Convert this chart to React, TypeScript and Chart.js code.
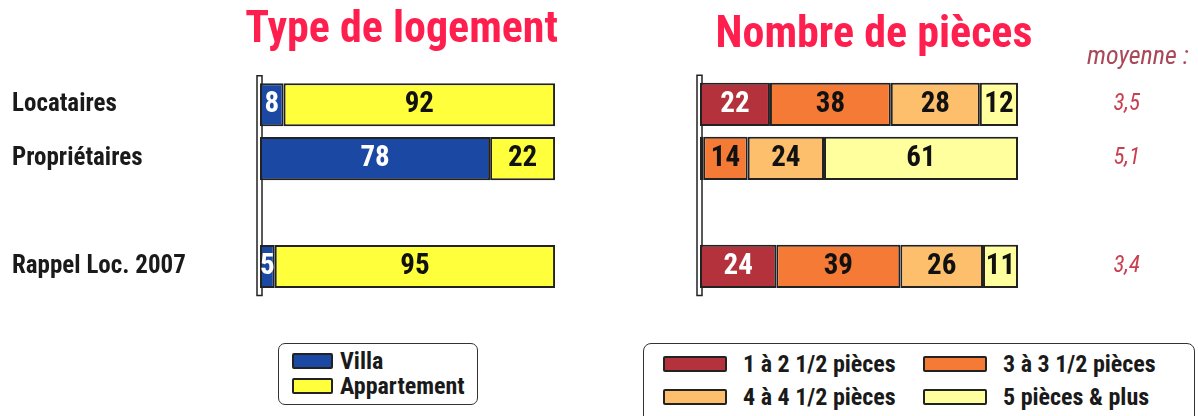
import React, { useEffect, useRef } from "react";
import { Chart, registerables } from "chart.js";

Chart.register(...registerables);

// ---------- data ----------
const rowLabels = ["Locataires", "Propriétaires", "", "Rappel Loc. 2007"];
const villa = [8, 78, null, 5];
const appartement = [92, 22, null, 95];
const pieces1a2 = [22, 1, null, 24];
const pieces3a3 = [38, 14, null, 39];
const pieces4a4 = [28, 24, null, 26];
const pieces5plus = [12, 61, null, 11];
const moyennes = ["3,5", "5,1", "", "3,4"];
const moyenneTitle = "moyenne :";
const typeLegend = ["Villa", "Appartement"];
const piecesLegend = ["1 à 2 1/2 pièces", "3 à 3 1/2 pièces", "4 à 4 1/2 pièces", "5 pièces & plus"];

// ---------- styles ----------
const FONT = "'Roboto Condensed', 'Liberation Sans Narrow', 'DejaVu Sans Condensed', sans-serif";
const typeColors = ["#1a48a2", "#ffff3c"];
const typeLabelColors = ["#ffffff", "#111111"];
const piecesColors = ["#b3323c", "#f57a36", "#fdbf6c", "#ffff9e"];
const piecesLabelColors = ["#ffffff", "#111111", "#111111", "#111111"];
const TITLE_COLOR = "#ff1f4f";
const MOY_COLOR = "#c8404f";
const BORDER = "#222222";

const wallPlugin = {
  id: "wall",
  beforeDatasetsDraw(chart: any) {
    const { ctx, chartArea } = chart;
    ctx.save();
    ctx.fillStyle = "#ffffff";
    ctx.strokeStyle = BORDER;
    ctx.lineWidth = 1.5;
    const x = chartArea.left - 3;
    const y = chartArea.top - 2;
    const h = chartArea.bottom - chartArea.top + 4;
    ctx.beginPath();
    ctx.rect(x, y, 5, h);
    ctx.fill();
    ctx.stroke();
    ctx.restore();
  },
};

const valueLabelPlugin = {
  id: "valueLabels",
  afterDatasetsDraw(chart: any, _args: any, opts: any) {
    const { ctx } = chart;
    const colors: string[] = opts.colors || [];
    ctx.save();
    ctx.font = `bold 29px ${FONT}`;
    ctx.textAlign = "center";
    ctx.textBaseline = "middle";
    chart.data.datasets.forEach((ds: any, di: number) => {
      const meta = chart.getDatasetMeta(di);
      meta.data.forEach((el: any, i: number) => {
        const v = ds.data[i];
        if (v == null || v < 3) return;
        ctx.fillStyle = colors[di] || "#111";
        ctx.fillText(String(v), (el.x + el.base) / 2, el.y);
      });
    });
    ctx.restore();
  },
};

const moyenneHeaderPlugin = {
  id: "moyenneHeader",
  afterDraw(chart: any, _args: any, opts: any) {
    if (!opts || !opts.text) return;
    const { ctx, chartArea } = chart;
    ctx.save();
    ctx.font = `italic 26px ${FONT}`;
    ctx.fillStyle = "#a84858";
    ctx.textAlign = "left";
    ctx.textBaseline = "middle";
    ctx.fillText(opts.text, chartArea.right + 69, chartArea.top - 20);
    ctx.restore();
  },
};

function makeDataset(label: string, data: (number | null)[], color: string) {
  return {
    label,
    data,
    backgroundColor: color,
    borderColor: BORDER,
    borderWidth: 2,
    borderSkipped: false as const,
    categoryPercentage: 0.8,
    barPercentage: 1.0,
  };
}

function TypeChart() {
  const ref = useRef<HTMLCanvasElement | null>(null);
  useEffect(() => {
    if (!ref.current) return;
    const chart = new Chart(ref.current, {
      type: "bar",
      data: {
        labels: rowLabels,
        datasets: [
          makeDataset(typeLegend[0], villa, typeColors[0]),
          makeDataset(typeLegend[1], appartement, typeColors[1]),
        ],
      },
      plugins: [wallPlugin, valueLabelPlugin],
      options: {
        indexAxis: "y",
        responsive: false,
        animation: false,
        devicePixelRatio: 1,
        layout: { padding: { left: 12, right: 0, top: 0, bottom: 16.5 } },
        scales: {
          x: { stacked: true, min: 0, max: 101, display: false },
          y: {
            stacked: true,
            grid: { display: false },
            border: { display: false },
            ticks: {
              crossAlign: "far",
              autoSkip: false,
              padding: 0,
              color: "#1a1a1a",
              font: { family: FONT, size: 25, weight: "bold" },
            },
            afterFit: (s: any) => {
              s.width = 248;
            },
          },
        },
        plugins: {
          legend: { display: false },
          tooltip: { enabled: false },
          title: {
            display: true,
            text: "Type de logement",
            align: "end",
            color: TITLE_COLOR,
            font: { family: FONT, size: 44, weight: "bold" },
            padding: { top: 5, bottom: 20 },
          },
          valueLabels: { colors: typeLabelColors },
        } as any,
      },
    });
    return () => chart.destroy();
  }, []);
  return (
    <canvas
      ref={ref}
      width={558}
      height={310}
      style={{ position: "absolute", left: 0, top: 0, width: 558, height: 310 }}
    />
  );
}

function PiecesChart() {
  const ref = useRef<HTMLCanvasElement | null>(null);
  useEffect(() => {
    if (!ref.current) return;
    const chart = new Chart(ref.current, {
      type: "bar",
      data: {
        labels: rowLabels,
        datasets: [
          makeDataset(piecesLegend[0], pieces1a2, piecesColors[0]),
          makeDataset(piecesLegend[1], pieces3a3, piecesColors[1]),
          makeDataset(piecesLegend[2], pieces4a4, piecesColors[2]),
          makeDataset(piecesLegend[3], pieces5plus, piecesColors[3]),
        ],
      },
      plugins: [wallPlugin, valueLabelPlugin, moyenneHeaderPlugin],
      options: {
        indexAxis: "y",
        responsive: false,
        animation: false,
        devicePixelRatio: 1,
        layout: { padding: { left: 0, right: 58, top: 0, bottom: 16.5 } },
        scales: {
          x: { stacked: true, min: 0, max: 100, display: false },
          y: {
            stacked: true,
            grid: { display: false },
            border: { display: false },
            ticks: { display: false },
            afterFit: (s: any) => {
              s.width = 92;
            },
          },
          y2: {
            type: "category",
            labels: moyennes,
            position: "right",
            offset: true,
            grid: { display: false },
            border: { display: false },
            ticks: {
              autoSkip: false,
              crossAlign: "far",
              padding: 0,
              color: MOY_COLOR,
              font: { family: FONT, size: 23, style: "italic" },
            },
            afterFit: (s: any) => {
              s.width = 122;
            },
          },
        } as any,
        plugins: {
          legend: { display: false },
          tooltip: { enabled: false },
          title: {
            display: true,
            text: "Nombre de pièces",
            align: "center",
            color: TITLE_COLOR,
            font: { family: FONT, size: 44, weight: "bold" },
            padding: { top: 10, bottom: 14.5 },
          },
          valueLabels: { colors: piecesLabelColors },
          moyenneHeader: { text: moyenneTitle },
        } as any,
      },
    });
    return () => chart.destroy();
  }, []);
  return (
    <canvas
      ref={ref}
      width={590}
      height={310}
      style={{ position: "absolute", left: 608, top: 0, width: 590, height: 310 }}
    />
  );
}

function Swatch({ color, width }: { color: string; width: number }) {
  return (
    <span
      style={{
        display: "inline-block",
        width,
        height: 16,
        boxSizing: "border-box",
        background: color,
        border: `2px solid ${BORDER}`,
        borderRadius: 2,
        flex: "none",
      }}
    />
  );
}

const legendText: React.CSSProperties = {
  fontFamily: FONT,
  fontWeight: "bold",
  fontSize: 24,
  color: "#1a1a1a",
  lineHeight: "24px",
  whiteSpace: "nowrap",
};

export default function App() {
  useEffect(() => {
    document.body.style.margin = "0";
  }, []);
  return (
    <div
      style={{
        position: "absolute",
        left: 0,
        top: 0,
        width: 1198,
        height: 416,
        overflow: "hidden",
        background: "#ffffff",
      }}
    >
      <TypeChart />
      <PiecesChart />
      {/* legend: type de logement */}
      <div
        style={{
          position: "absolute",
          left: 278,
          top: 343,
          width: 200,
          height: 62,
          boxSizing: "border-box",
          border: "1.5px solid #333",
          borderRadius: 7,
        }}
      >
        {typeLegend.map((name, i) => (
          <div
            key={name}
            style={{
              position: "absolute",
              left: 13,
              top: 8 + i * 25,
              display: "flex",
              alignItems: "center",
              gap: 7,
              height: 18,
            }}
          >
            <Swatch color={typeColors[i]} width={41} />
            <span style={legendText}>{name}</span>
          </div>
        ))}
      </div>
      {/* legend: nombre de pièces */}
      <div
        style={{
          position: "absolute",
          left: 643,
          top: 343,
          width: 552,
          height: 90,
          boxSizing: "border-box",
          border: "1.5px solid #333",
          borderRadius: 8,
        }}
      >
        {piecesLegend.map((name, i) => (
          <div
            key={name}
            style={{
              position: "absolute",
              left: 19 + (i % 2) * 260,
              top: 11 + Math.floor(i / 2) * 33,
              display: "flex",
              alignItems: "center",
              gap: 16,
              height: 18,
            }}
          >
            <Swatch color={piecesColors[i]} width={64} />
            <span style={legendText}>{name}</span>
          </div>
        ))}
      </div>
    </div>
  );
}
